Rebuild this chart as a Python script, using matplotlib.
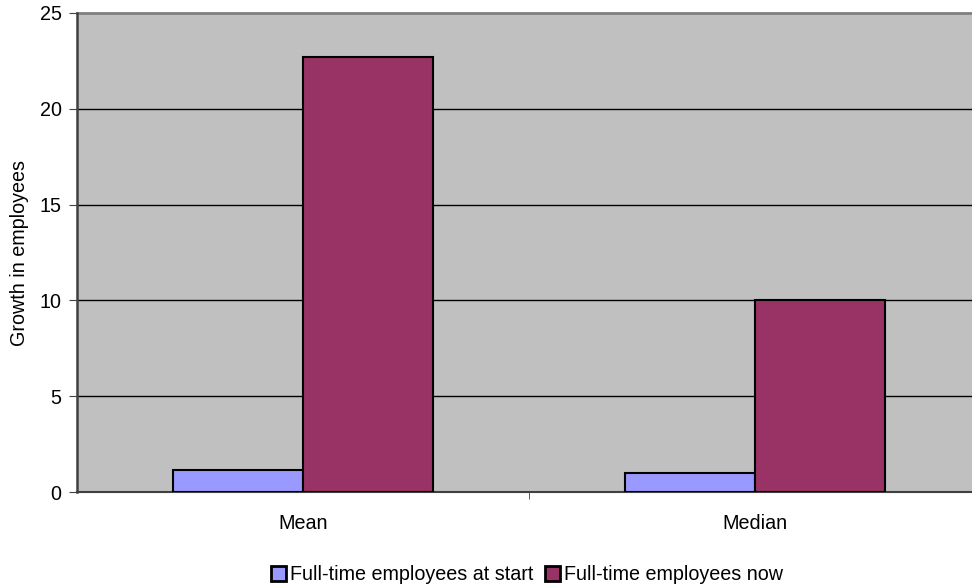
import matplotlib
matplotlib.use("Agg")
import matplotlib.pyplot as plt
import numpy as np

categories = ["Mean", "Median"]
at_start = [1.15, 1.0]
now = [22.7, 10.0]
series_names = ["Full-time employees at start", "Full-time employees now"]
y_ticks = [0, 5, 10, 15, 20, 25]

plt.rcParams["font.family"] = ["Liberation Sans", "DejaVu Sans"]
FS = 14.2

fig = plt.figure(figsize=(9.72, 5.88), dpi=100)
ax = fig.add_axes([77 / 972, 96 / 588, 904 / 972, 479 / 588])
ax.set_facecolor("#C0C0C0")

x = np.arange(len(categories))
w = 0.2876
ax.bar(x - w / 2, at_start, w, color="#9999FF", edgecolor="black", linewidth=1.5,
       label=series_names[0], zorder=3)
ax.bar(x + w / 2, now, w, color="#993366", edgecolor="black", linewidth=1.5,
       label=series_names[1], zorder=3)

ax.set_xlim(-0.5, 1.5)
ax.set_ylim(0, 25)
ax.set_yticks(y_ticks)
ax.set_yticklabels([str(t) for t in y_ticks], fontsize=FS)
ax.set_xticks(x)
ax.set_xticklabels(categories, fontsize=FS)
ax.tick_params(axis="x", length=0, pad=16)
ax.set_xticks([0.5], minor=True)
ax.tick_params(axis="x", which="minor", length=5, color="#404040")
ax.tick_params(axis="y", length=6, color="#404040", pad=5)

for t in y_ticks[1:-1]:
    ax.axhline(t, color="black", linewidth=1, zorder=1)

for side in ["top", "right"]:
    ax.spines[side].set_visible(False)
ax.axhline(25, color="#808080", linewidth=2, zorder=2, clip_on=False)
ax.spines["left"].set_color("#404040")
ax.spines["left"].set_linewidth(1.8)
ax.spines["bottom"].set_color("#404040")
ax.spines["bottom"].set_linewidth(1.5)

ax.set_ylabel("Growth in employees", fontsize=FS, labelpad=8)

leg = fig.legend(loc="center", bbox_to_anchor=(527 / 972, 13 / 588), ncol=2,
                 frameon=False, fontsize=FS, handlelength=0.75, handleheight=0.75,
                 handletextpad=0.2, columnspacing=0.6)
for h in leg.legend_handles:
    h.set_linewidth(2)

fig.savefig("out.png", dpi=100)
